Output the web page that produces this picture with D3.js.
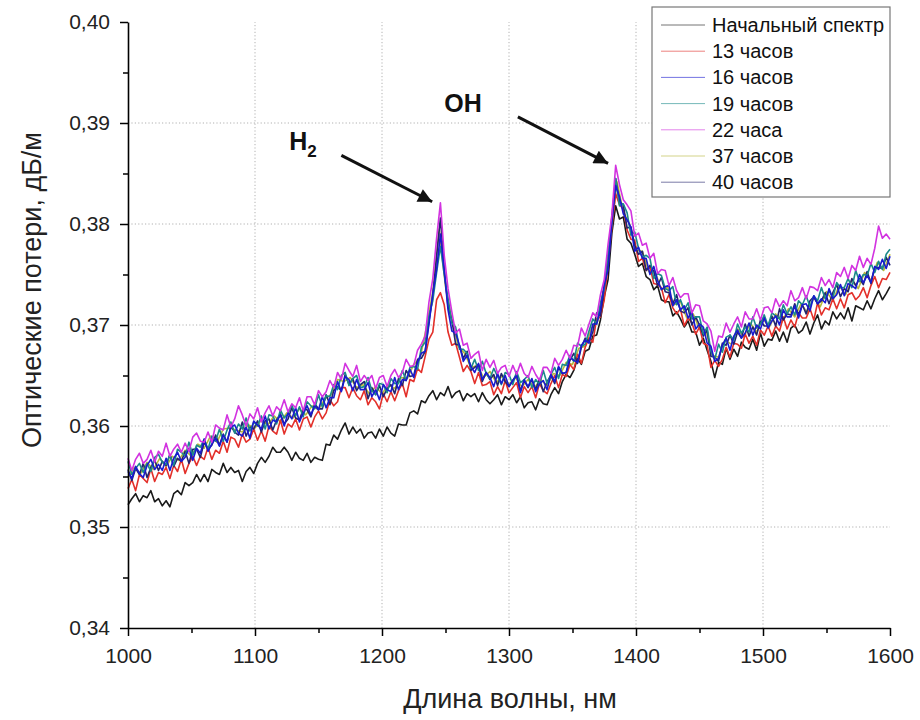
<!DOCTYPE html>
<html><head><meta charset="utf-8">
<script src="https://cdn.jsdelivr.net/npm/d3@7"></script>
<style>
body{margin:0;background:#fff}
svg{display:block;font-family:Arial,"Liberation Sans",sans-serif}
</style>
</head><body>
<svg id="chart" width="920" height="720"></svg>
<script>
// Sampling grids (nm)
const wavelengths = d3.range(1000, 1601, 3);
const wavelengths5 = d3.range(1000, 1601, 5);

const seriesNames = ["Начальный спектр","13 часов","16 часов","19 часов","22 часа","37 часов","40 часов"];
const seriesColors = ["#1a1a1a","#e3302a","#1a1ad0","#1b8a8a","#d233e0","#b8b83a","#24246e"];

const initialSpectrum = [
.3522,.3528,.3533,.3525,.3531,.3529,.3536,.3525,.3528,.3521,
.3526,.3520,.3533,.3536,.3532,.3544,.3541,.3544,.3552,.3545,
.3552,.3545,.3557,.3554,.3552,.3563,.3554,.3559,.3554,.3556,
.3545,.3555,.3559,.3553,.3563,.3569,.3564,.3570,.3579,.3574,
.3574,.3579,.3574,.3566,.3574,.3568,.3566,.3573,.3564,.3569,
.3567,.3566,.3582,.3581,.3591,.3587,.3596,.3603,.3592,.3599,
.3593,.3597,.3588,.3593,.3594,.3588,.3597,.3590,.3599,.3593,
.3590,.3602,.3601,.3601,.3613,.3615,.3612,.3625,.3623,.3630,
.3635,.3626,.3633,.3630,.3639,.3628,.3633,.3635,.3625,.3632,
.3629,.3632,.3624,.3633,.3626,.3622,.3626,.3631,.3621,.3629,
.3626,.3631,.3623,.3629,.3618,.3623,.3624,.3616,.3627,.3622,
.3621,.3631,.3638,.3632,.3644,.3651,.3648,.3655,.3667,.3661,
.3674,.3676,.3689,.3690,.3705,.3728,.3745,.3791,.3818,.3805,
.3807,.3785,.3781,.3770,.3758,.3761,.3748,.3745,.3735,.3739,
.3725,.3723,.3723,.3709,.3713,.3706,.3698,.3704,.3693,.3693,
.3680,.3687,.3675,.3664,.3648,.3663,.3661,.3677,.3666,.3676,
.3669,.3683,.3678,.3676,.3686,.3675,.3692,.3679,.3686,.3685,
.3694,.3684,.3693,.3683,.3697,.3700,.3692,.3695,.3703,.3691,
.3702,.3710,.3696,.3704,.3700,.3713,.3706,.3712,.3706,.3717,
.3704,.3719,.3717,.3715,.3724,.3716,.3726,.3734,.3725,.3731,
.3738];

const hours13 = [
.3538,.3547,.3536,.3552,.3548,.3544,.3558,.3545,.3554,.3552,
.3559,.3548,.3561,.3555,.3567,.3553,.3563,.3570,.3561,.3570,
.3567,.3579,.3567,.3576,.3573,.3585,.3574,.3589,.3587,.3579,
.3592,.3584,.3587,.3597,.3586,.3595,.3585,.3600,.3595,.3592,
.3606,.3592,.3602,.3599,.3607,.3596,.3607,.3609,.3599,.3609,
.3615,.3607,.3613,.3626,.3620,.3624,.3638,.3638,.3628,.3638,
.3630,.3626,.3635,.3621,.3628,.3624,.3617,.3632,.3624,.3634,
.3625,.3635,.3642,.3629,.3646,.3644,.3657,.3653,.3669,.3686,
.3693,.3725,.3732,.3720,.3693,.3680,.3682,.3668,.3654,.3660,
.3654,.3642,.3653,.3640,.3641,.3644,.3631,.3639,.3632,.3645,
.3633,.3638,.3643,.3628,.3639,.3633,.3639,.3628,.3642,.3635,
.3632,.3642,.3650,.3638,.3651,.3649,.3661,.3656,.3671,.3662,
.3678,.3687,.3683,.3706,.3708,.3725,.3760,.3797,.3830,.3819,
.3815,.3794,.3785,.3784,.3763,.3766,.3754,.3758,.3741,.3740,
.3737,.3722,.3730,.3717,.3711,.3716,.3699,.3707,.3702,.3691,
.3698,.3682,.3680,.3658,.3665,.3659,.3666,.3678,.3668,.3682,
.3681,.3677,.3691,.3682,.3689,.3680,.3695,.3690,.3699,.3689,
.3699,.3694,.3708,.3696,.3705,.3698,.3712,.3707,.3707,.3716,
.3705,.3722,.3710,.3717,.3715,.3726,.3716,.3726,.3717,.3730,
.3732,.3725,.3729,.3737,.3727,.3739,.3748,.3737,.3746,.3745,
.3752];

const hours16 = [
.3555,.3548,.3560,.3553,.3549,.3561,.3567,.3557,.3562,.3556,
.3568,.3556,.3568,.3574,.3565,.3569,.3578,.3566,.3578,.3573,
.3587,.3575,.3582,.3588,.3580,.3591,.3584,.3599,.3601,.3593,
.3590,.3599,.3588,.3605,.3601,.3597,.3610,.3597,.3606,.3604,
.3611,.3600,.3613,.3607,.3618,.3604,.3613,.3620,.3611,.3620,
.3616,.3629,.3618,.3628,.3628,.3644,.3634,.3649,.3646,.3635,
.3646,.3636,.3636,.3643,.3629,.3636,.3626,.3641,.3636,.3634,
.3648,.3636,.3646,.3645,.3656,.3648,.3663,.3672,.3674,.3701,
.3731,.3755,.3790,.3754,.3715,.3694,.3692,.3680,.3664,.3670,
.3659,.3653,.3662,.3646,.3653,.3648,.3639,.3652,.3642,.3650,
.3639,.3645,.3650,.3633,.3646,.3639,.3647,.3634,.3642,.3645,
.3636,.3651,.3644,.3659,.3652,.3653,.3668,.3665,.3663,.3680,
.3685,.3682,.3701,.3701,.3715,.3740,.3755,.3802,.3838,.3827,
.3810,.3804,.3797,.3773,.3777,.3766,.3766,.3750,.3758,.3744,
.3735,.3738,.3739,.3719,.3725,.3715,.3719,.3707,.3713,.3696,
.3701,.3698,.3682,.3679,.3664,.3667,.3680,.3687,.3675,.3689,
.3695,.3687,.3692,.3702,.3690,.3700,.3696,.3707,.3697,.3704,
.3709,.3700,.3715,.3708,.3708,.3719,.3707,.3720,.3721,.3714,
.3729,.3721,.3726,.3722,.3736,.3726,.3730,.3740,.3729,.3741,
.3739,.3736,.3750,.3742,.3749,.3742,.3758,.3755,.3765,.3756,
.3768];

const hours19 = [
.3565,.3552,.3558,.3563,.3554,.3563,.3555,.3569,.3572,.3564,
.3562,.3571,.3561,.3577,.3574,.3570,.3584,.3571,.3581,.3579,
.3587,.3577,.3590,.3585,.3597,.3585,.3596,.3604,.3593,.3602,
.3597,.3608,.3595,.3604,.3600,.3610,.3597,.3611,.3610,.3602,
.3616,.3608,.3612,.3621,.3610,.3619,.3609,.3624,.3620,.3617,
.3631,.3619,.3630,.3629,.3641,.3636,.3650,.3653,.3640,.3647,
.3650,.3638,.3639,.3648,.3635,.3631,.3642,.3641,.3633,.3647,
.3642,.3642,.3655,.3645,.3658,.3659,.3656,.3678,.3683,.3709,
.3724,.3752,.3778,.3750,.3726,.3702,.3698,.3676,.3676,.3672,
.3657,.3666,.3655,.3664,.3652,.3647,.3657,.3649,.3641,.3653,
.3651,.3641,.3654,.3643,.3646,.3650,.3638,.3646,.3641,.3655,
.3642,.3651,.3658,.3647,.3661,.3660,.3670,.3664,.3682,.3679,
.3681,.3694,.3706,.3701,.3722,.3736,.3771,.3800,.3845,.3818,
.3820,.3811,.3789,.3792,.3776,.3767,.3769,.3766,.3746,.3751,
.3749,.3736,.3734,.3738,.3720,.3725,.3715,.3722,.3706,.3708,
.3708,.3691,.3698,.3674,.3666,.3681,.3673,.3688,.3690,.3685,
.3701,.3692,.3698,.3693,.3708,.3697,.3701,.3710,.3699,.3712,
.3709,.3706,.3720,.3711,.3718,.3710,.3724,.3720,.3729,.3718,
.3729,.3724,.3737,.3726,.3734,.3727,.3742,.3737,.3737,.3746,
.3737,.3754,.3743,.3750,.3749,.3761,.3752,.3763,.3755,.3770,
.3775];

const hours22 = [
.3568,.3556,.3567,.3573,.3563,.3567,.3576,.3564,.3575,.3570,
.3583,.3570,.3577,.3582,.3574,.3583,.3575,.3589,.3593,.3585,
.3584,.3594,.3584,.3601,.3598,.3596,.3611,.3599,.3607,.3620,
.3611,.3600,.3612,.3607,.3618,.3604,.3613,.3620,.3610,.3619,
.3615,.3626,.3614,.3622,.3618,.3628,.3615,.3629,.3629,.3621,
.3635,.3629,.3634,.3645,.3638,.3653,.3646,.3662,.3655,.3649,
.3660,.3644,.3650,.3645,.3650,.3637,.3648,.3650,.3639,.3650,
.3656,.3648,.3653,.3666,.3659,.3660,.3675,.3681,.3689,.3723,
.3746,.3786,.3821,.3769,.3736,.3713,.3692,.3696,.3680,.3682,
.3667,.3671,.3674,.3655,.3666,.3658,.3665,.3652,.3658,.3660,
.3649,.3660,.3651,.3662,.3652,.3648,.3659,.3651,.3645,.3658,
.3658,.3652,.3667,.3660,.3666,.3675,.3667,.3680,.3679,.3697,
.3689,.3701,.3712,.3708,.3730,.3745,.3780,.3809,.3858,.3839,
.3824,.3819,.3813,.3788,.3791,.3779,.3781,.3766,.3771,.3751,
.3755,.3754,.3739,.3747,.3734,.3727,.3731,.3731,.3712,.3720,
.3719,.3704,.3701,.3694,.3674,.3689,.3688,.3702,.3693,.3701,
.3708,.3698,.3713,.3706,.3706,.3716,.3705,.3717,.3718,.3712,
.3726,.3718,.3724,.3719,.3734,.3724,.3727,.3737,.3726,.3738,
.3737,.3734,.3747,.3739,.3745,.3737,.3752,.3748,.3757,.3746,
.3759,.3754,.3768,.3757,.3766,.3760,.3776,.3798,.3786,.3790,
.3785];

// 37 часов, read at 5 nm steps
const hours37 = [
.3549,.3559,.3553,.3564,.3557,.3568,.3560,.3570,.3566,.3576,
.3570,.3582,.3578,.3590,.3584,.3597,.3598,.3596,.3594,.3601,
.3598,.3606,.3601,.3610,.3604,.3613,.3608,.3617,.3611,.3620,
.3616,.3627,.3631,.3646,.3644,.3648,.3638,.3641,.3632,.3639,
.3632,.3641,.3637,.3648,.3647,.3661,.3667,.3698,.3733,.3795,
.3738,.3706,.3679,.3672,.3658,.3660,.3648,.3654,.3643,.3650,
.3641,.3648,.3639,.3646,.3638,.3646,.3640,.3652,.3650,.3663,
.3661,.3677,.3679,.3697,.3704,.3740,.3788,.3842,.3812,.3800,
.3774,.3773,.3753,.3753,.3735,.3737,.3720,.3723,.3707,.3711,
.3696,.3695,.3670,.3668,.3685,.3681,.3696,.3688,.3702,.3693,
.3706,.3698,.3711,.3703,.3716,.3708,.3721,.3712,.3727,.3718,
.3733,.3724,.3739,.3730,.3745,.3736,.3752,.3744,.3762,.3754,
.3770];

const hours40 = [
.3557,.3546,.3558,.3552,.3563,.3549,.3559,.3566,.3556,.3565,
.3561,.3572,.3560,.3568,.3565,.3575,.3563,.3577,.3577,.3569,
.3584,.3577,.3581,.3591,.3581,.3592,.3584,.3600,.3594,.3591,
.3604,.3590,.3599,.3597,.3605,.3594,.3605,.3607,.3596,.3606,
.3612,.3602,.3607,.3618,.3608,.3606,.3617,.3616,.3609,.3622,
.3617,.3617,.3631,.3621,.3635,.3639,.3635,.3651,.3641,.3647,
.3635,.3641,.3644,.3627,.3638,.3631,.3640,.3629,.3637,.3641,
.3632,.3647,.3640,.3655,.3649,.3650,.3666,.3667,.3674,.3704,
.3728,.3768,.3806,.3756,.3718,.3705,.3681,.3680,.3667,.3674,
.3655,.3658,.3661,.3644,.3653,.3646,.3651,.3640,.3652,.3644,
.3639,.3645,.3651,.3635,.3645,.3638,.3646,.3636,.3647,.3634,
.3644,.3650,.3642,.3658,.3652,.3653,.3665,.3672,.3662,.3678,
.3687,.3684,.3693,.3712,.3709,.3738,.3759,.3807,.3845,.3822,
.3819,.3796,.3797,.3779,.3770,.3773,.3754,.3759,.3753,.3739,
.3747,.3733,.3732,.3721,.3730,.3714,.3712,.3717,.3700,.3708,
.3700,.3689,.3695,.3669,.3668,.3664,.3682,.3680,.3690,.3681,
.3693,.3687,.3701,.3689,.3698,.3690,.3705,.3699,.3699,.3709,
.3699,.3716,.3705,.3711,.3710,.3721,.3710,.3720,.3711,.3724,
.3728,.3721,.3724,.3732,.3721,.3732,.3740,.3728,.3736,.3733,
.3746,.3739,.3746,.3740,.3753,.3741,.3757,.3757,.3756,.3767,
.3759];

const seriesValues = [initialSpectrum, hours13, hours16, hours19, hours22, hours37, hours40];
const seriesGrids = [wavelengths, wavelengths, wavelengths, wavelengths, wavelengths, wavelengths5, wavelengths];
const drawOrder = [5, 0, 1, 6, 3, 2, 4];

const xTicks = [1000,1100,1200,1300,1400,1500,1600];
const xMinorTicks = [1050,1150,1250,1350,1450,1550];
const yTicks = [0.34,0.35,0.36,0.37,0.38,0.39,0.40];
const yMinorTicks = [0.345,0.355,0.365,0.375,0.385,0.395];

const xTitle = "Длина волны, нм";
const yTitle = "Оптические потери, дБ/м";

// annotations in data coordinates
const annotations = [
  {label:"H", sub:"2", tx:1127, ty:0.3873, from:[1168,0.3868], to:[1239.5,0.3822]},
  {label:"OH", sub:"", tx:1249, ty:0.3911, from:[1307,0.3906], to:[1378,0.3860]}
];

const svg = d3.select("#chart");
const x = d3.scaleLinear().domain([1000,1600]).range([128,890]);
const y = d3.scaleLinear().domain([0.34,0.40]).range([628,22]);

// grid
const grid = svg.append("g").attr("stroke","#a8a8a8").attr("stroke-width",0.9).attr("stroke-dasharray","1.2,2.2");
grid.selectAll("line.gy").data(yTicks.filter(v=>v>0.341 && v<0.399)).join("line")
  .attr("x1",x(1000)).attr("x2",x(1600)).attr("y1",d=>y(d)).attr("y2",d=>y(d));
grid.selectAll("line.gx").data(xTicks.filter(v=>v>1000 && v<1600)).join("line")
  .attr("y1",y(0.34)).attr("y2",y(0.40)).attr("x1",d=>x(d)).attr("x2",d=>x(d));

// lines
const lg = svg.append("g").attr("fill","none").attr("stroke-width",1.6).attr("stroke-linejoin","round");
drawOrder.forEach(k=>{
  const g = seriesGrids[k];
  const line = d3.line().x((d,i)=>x(g[i])).y(d=>y(d));
  lg.append("path").attr("d",line(seriesValues[k])).attr("stroke",seriesColors[k]);
});

// axes
const fmt = d => d3.format(".2f")(d).replace(".", ",");
svg.append("g").attr("transform",`translate(0,${y(0.34)})`)
  .call(d3.axisBottom(x).tickValues(xTicks).tickSize(8).tickSizeOuter(0).tickPadding(12).tickFormat(d3.format("d")));
svg.append("g").attr("transform",`translate(0,${y(0.34)})`)
  .call(d3.axisBottom(x).tickValues(xMinorTicks).tickSize(5).tickSizeOuter(0).tickFormat(""))
  .select(".domain").remove();
svg.append("g").attr("transform",`translate(${x(1000)},0)`)
  .call(d3.axisLeft(y).tickValues(yTicks).tickSize(8).tickSizeOuter(0).tickPadding(10).tickFormat(fmt));
svg.append("g").attr("transform",`translate(${x(1000)},0)`)
  .call(d3.axisLeft(y).tickValues(yMinorTicks).tickSize(5).tickSizeOuter(0).tickFormat(""))
  .select(".domain").remove();
svg.selectAll(".domain").attr("stroke","#000").attr("stroke-width",1.6);
svg.selectAll(".tick line").attr("stroke","#000").attr("stroke-width",1.5);
svg.selectAll(".tick text").attr("font-size",21).attr("fill","#222").attr("font-family","Arial, 'Liberation Sans', sans-serif");

// titles
svg.append("text").attr("x",510).attr("y",708).attr("text-anchor","middle")
  .attr("font-size",27).attr("fill","#222").text(xTitle);
svg.append("text").attr("transform","translate(41,290) rotate(-90)").attr("text-anchor","middle")
  .attr("font-size",27).attr("fill","#222").text(yTitle);

// arrows
const defs = svg.append("defs");
defs.append("marker").attr("id","ah").attr("viewBox","0 0 10 10").attr("refX",10).attr("refY",5)
  .attr("markerWidth",22).attr("markerHeight",14).attr("markerUnits","userSpaceOnUse").attr("orient","auto")
  .append("path").attr("d","M0,0 L10,5 L0,10 Z").attr("fill","#111");
annotations.forEach(a=>{
  svg.append("line").attr("x1",x(a.from[0])).attr("y1",y(a.from[1])).attr("x2",x(a.to[0])).attr("y2",y(a.to[1]))
    .attr("stroke","#111").attr("stroke-width",3).attr("marker-end","url(#ah)");
  const t = svg.append("text").attr("x",x(a.tx)).attr("y",y(a.ty)).attr("font-size",25).attr("font-weight","bold").attr("fill","#111").text(a.label);
  if (a.sub) t.append("tspan").attr("font-size",17).attr("dy",7).text(a.sub);
});

// legend
const leg = svg.append("g");
leg.append("rect").attr("x",652).attr("y",7).attr("width",238).attr("height",190)
  .attr("fill","#fff").attr("stroke","#777").attr("stroke-width",1.2);
seriesNames.forEach((n,i)=>{
  const cy = 25 + i*26.2;
  leg.append("line").attr("x1",661).attr("x2",705).attr("y1",cy).attr("y2",cy)
    .attr("stroke",seriesColors[i]).attr("stroke-width",1).attr("opacity",0.6);
  leg.append("text").attr("x",712).attr("y",cy).attr("dy","0.35em").attr("font-size",20).attr("fill","#111").text(n);
});
</script>
</body></html>
